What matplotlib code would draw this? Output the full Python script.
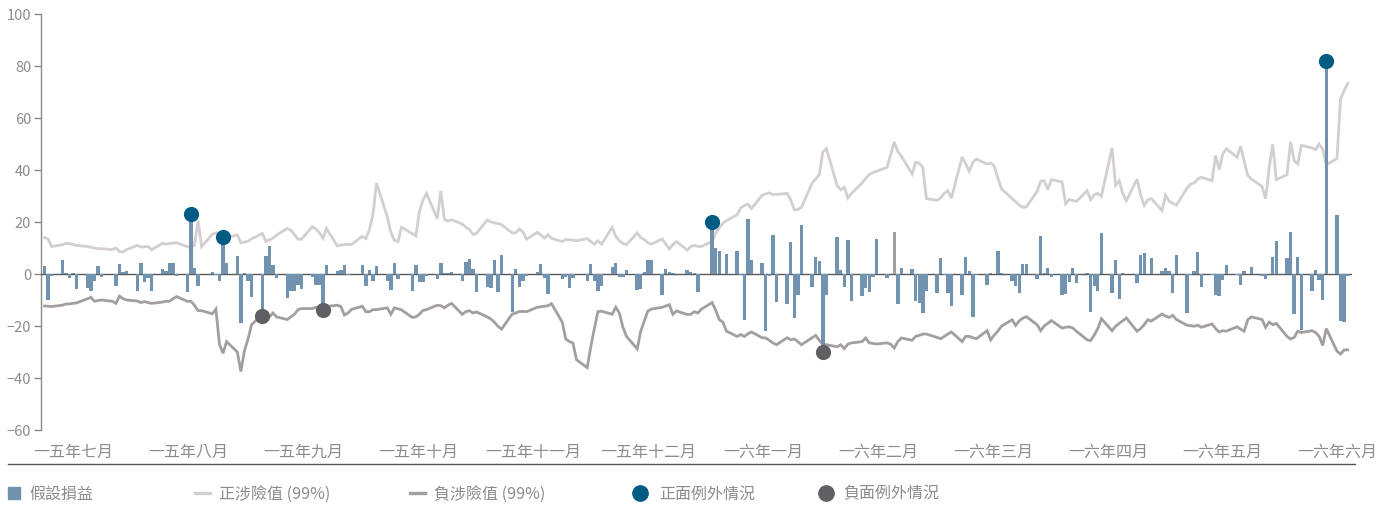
import numpy as np
import pandas as pd
import matplotlib
matplotlib.use('Agg')
import matplotlib.pyplot as plt
from matplotlib.lines import Line2D
from matplotlib.patches import Rectangle

plt.rcParams['font.family'] = ['Noto Sans CJK TC', 'DejaVu Sans']

# trading days, Jul 2015 - Jun 2016
dates = pd.bdate_range('2015-07-01', '2016-06-30')

# hypothetical P&L, one row per week
pnl = [
    2.9, -9.9, -0.9,
    5.5, 0.3, -1.5, 0.4, -5.8,
    -5.5, -6.5, -2.5, 3.2, -1.2,
    0, -4.7, 3.9, 0.8, 1.2,
    -6.5, 4.3, -3.2, -1.5, -6.5,
    2, 1, 4.2, 4.2, -0.8,
    -7, 23, 2.4, -4.8, 0,
    0.8, -0.4, -2.8, 14.3, 4.2,
    6.8, -19, 0.3, -2.8, -8.7,
    -16, 6.8, 10.6, 3.4, -1.7,
    -9.3, -6.6, -6.6, -4.2, -5.7,
    -1.2, -4.3, -4.3, -13.8, 3.4,
    1, 1.4, 3.4, -0.4, 0,
    3.3, -4.5, 1.5, -2.8, 3.1,
    -2.6, -6, 4.3, -2, 0,
    -6.5, 3.5, -3.2, -2.9, -0.9,
    -2, 4.2, 0.3, 0.3, 0.8,
    -2.8, 4.5, 5.8, 1.8, -6.9,
    -4.9, -5.2, 5.5, -7, 7.5,
    -14.6, 2, -5, -2.8, -0.9,
    0.7, 4, -1.6, -7.8, 0,
    -2, -1.2, -5.5, -1.5, 0,
    -2.5, 4, -2.8, -6.5, -4.7,
    2.7, 4.2, -1, -1, 1.5,
    -6.2, -5.7, 0.8, 5.2, 5.5,
    -8, 2, 0.6, 0.3, 0,
    1.5, 0.6, 0.2, -6.9, 0,
    20, 10, 8.8, 0, 7.8,
    8.7, -0.5, -17.7, 21.2, 5.4,
    4.2, -22, -0.6, 15, -10.6,
    -11.4, 12.3, -16.9, -7.9, 18.8,
    -4.9, 6.5, 5, -30, -7.9,
    14.2, 1.5, -4.9, 13, -10.3,
    -8.3, -5.2, -7.1, -1.3, 13.5,
    -1.5, 0, 16, -11.5, 2.2,
    2, -10.5, -11, -15, -6.5,
    -7.2, 6.2, -0.3, -7.2, -12.2,
    -7.9, 6.5, 1, -16.4, -0.5,
    -4.1, 0.4, 0, 8.8, 0.3,
    -2.6, -4.5, -7.4, 3.8, 3.8,
    -2, 14.6, 0.5, 2.3, -1.3,
    -8.2, -7.6, -3, 2.3, -3.6,
    0.3, -14.7, -4.5, -6.4, 15.6,
    -7.2, 5.4, -9.5, 0.3, 0,
    -3.3, 7.4, 8, 0, 6.2,
    1, 2.5, 1, -7.3, 7.4,
    -15, -0.5, 1.2, 8.5, -4.9,
    -0.3, -7.9, -8.3, -2.2, 3.3,
    -0.5, -4.1, 1.2, 0, 2.6,
    -0.8, -2, 0, 6.5, 12.8,
    6.2, 16.2, -15.4, 6.5, -21.5,
    -6.7, 1.5, -2.2, -9.9, 82,
    22.6, -18, -18.6, -0.8,
]

var_pos = [
    14.0, 13.5, 10.5,
    11.3, 11.8, 11.7, 11.3, 11.0,
    10.6, 10.3, 10.0, 9.7, 9.7,
    9.4, 10.0, 8.6, 8.5, 9.4,
    11.0, 10.4, 10.5, 10.6, 9.3,
    11.8, 11.5, 11.7, 11.9, 12.0,
    10.5, 10.3, 11.0, 20.5, 10.5,
    15.3, 15.8, 15.5, 13.5, 14.0,
    15.0, 12.0, 12.3, 12.6, 13.5,
    15.6, 12.5, 13.2, 13.8, 15.0,
    17.5, 16.8, 15.2, 13.4, 13.4,
    18.2, 17.3, 15.8, 13.8, 17.5,
    10.8, 11.2, 11.3, 11.4, 11.4,
    14.5, 13.6, 17.0, 23.0, 35.0,
    22.0, 16.0, 13.0, 12.5, 18.0,
    15.5, 14.6, 24.0, 28.5, 31.0,
    21.3, 32.0, 21.0, 20.3, 20.9,
    19.2, 18.0, 17.2, 15.2, 15.6,
    20.8, 20.0, 19.7, 19.4, 19.0,
    15.8, 15.8, 17.3, 16.2, 13.4,
    16.0, 15.0, 13.8, 15.1, 13.7,
    12.5, 13.2, 13.2, 13.0, 12.8,
    13.6, 12.5, 11.5, 12.8, 11.5,
    17.9, 14.5, 12.8, 11.8, 11.3,
    15.8, 14.0, 13.2, 12.0, 11.5,
    13.5, 11.5, 9.7, 11.3, 12.5,
    9.2, 10.5, 11.0, 10.6, 10.6,
    12.5, 15.8, 17.7, 19.5, 20.5,
    22.8, 25.4, 26.3, 26.9, 25.1,
    30.3, 30.8, 31.2, 30.6, 30.6,
    31.0, 28.5, 24.7, 24.8, 25.6,
    35.0, 36.5, 38.3, 47.0, 48.2,
    34.0, 32.4, 33.3, 29.2, 31.0,
    35.0, 36.8, 38.3, 39.0, 39.5,
    41.0, 46.0, 50.8, 47.0, 45.3,
    38.5, 43.0, 42.5, 41.0, 29.0,
    28.3, 29.3, 31.0, 32.0, 29.2,
    45.0, 42.3, 39.5, 43.0, 44.2,
    42.3, 42.7, 41.5, 37.0, 32.8,
    29.0, 27.7, 26.5, 25.6, 25.8,
    31.8, 35.6, 35.9, 32.5, 36.3,
    35.4, 27.0, 28.6, 28.3, 27.9,
    32.0, 28.6, 30.5, 31.0, 29.9,
    48.5, 34.1, 35.9, 31.0, 28.2,
    36.5, 30.5, 26.4, 28.5, 29.0,
    24.4, 30.3, 28.0, 27.2, 26.4,
    33.0, 34.6, 35.0, 36.5, 37.2,
    35.9, 45.6, 40.1, 46.2, 48.2,
    44.9, 49.1, 43.3, 38.0, 36.5,
    33.7, 29.0, 40.8, 50.0, 36.3,
    38.2, 50.8, 43.6, 42.3, 49.5,
    48.5, 47.8, 50.0, 48.0, 42.0,
    44.4, 67.4, 70.5, 73.3,
]

var_neg = [
    -12.3, -12.4, -12.5,
    -12.0, -11.5, -11.5, -11.3, -11.1,
    -9.5, -9.0, -10.5, -10.2, -10.0,
    -10.5, -11.3, -8.5, -9.5, -10.0,
    -10.4, -11.0, -10.6, -11.0, -11.3,
    -10.8, -10.5, -10.5, -9.5, -8.7,
    -10.5, -10.5, -12.0, -14.1, -14.1,
    -15.3, -13.5, -27.0, -30.5, -26.0,
    -30.0, -37.5, -29.5, -25.0, -19.5,
    -15.5, -16.3, -16.5, -15.0, -16.5,
    -17.5, -16.5, -15.5, -13.7, -13.3,
    -13.3, -12.8, -13.0, -13.0, -12.5,
    -12.0, -12.5, -15.8, -15.0, -13.6,
    -12.4, -14.5, -14.5, -13.7, -13.7,
    -13.0, -15.5, -13.0, -13.4, -13.8,
    -16.7, -16.5, -15.5, -14.0, -13.7,
    -12.0, -12.2, -13.0, -12.0, -11.3,
    -15.5, -14.5, -14.1, -15.0, -14.6,
    -16.5, -17.3, -18.5, -20.1, -21.2,
    -15.4, -15.0, -14.4, -14.4, -14.5,
    -12.8, -12.6, -12.4, -12.2, -11.4,
    -18.5, -25.0, -26.0, -26.5, -33.0,
    -36.0, -28.0, -21.0, -14.5, -14.3,
    -15.5, -12.8, -15.0, -20.5, -24.0,
    -28.8, -22.0, -18.0, -14.2, -13.5,
    -12.8, -12.3, -11.8, -15.5, -14.2,
    -15.6, -15.5, -14.5, -15.0, -13.5,
    -11.0, -14.0, -17.6, -18.5, -22.0,
    -24.0, -23.3, -24.0, -23.0, -22.3,
    -24.5, -24.6, -25.5, -26.5, -27.2,
    -24.5, -25.3, -25.0, -26.0, -27.2,
    -24.5, -23.6, -25.5, -27.0, -27.2,
    -28.0, -27.2, -28.7, -27.0, -26.5,
    -26.0, -24.6, -26.5, -26.7, -26.9,
    -26.5, -27.0, -28.5, -26.0, -24.6,
    -25.5, -24.0, -23.6, -23.1, -23.1,
    -24.4, -24.9, -24.0, -23.1, -22.3,
    -26.0, -24.0, -24.0, -24.5, -24.9,
    -21.8, -25.3, -23.5, -22.0, -20.1,
    -17.6, -19.8, -18.0, -17.0, -16.4,
    -19.5, -21.8, -20.0, -19.0, -17.9,
    -20.8, -20.5, -20.3, -20.8, -22.0,
    -25.3, -25.6, -23.5, -21.0, -17.2,
    -21.8, -20.1, -19.0, -18.0, -16.9,
    -22.0, -21.0, -19.5, -17.6, -18.1,
    -15.4, -16.2, -16.7, -15.9, -17.5,
    -19.7, -19.9, -20.1, -19.7, -20.5,
    -19.2, -21.0, -22.3, -21.8, -22.0,
    -20.3, -21.2, -22.0, -17.6, -16.5,
    -17.5, -20.5, -18.5, -19.5, -19.0,
    -24.0, -25.0, -24.4, -22.0, -22.5,
    -21.8, -22.5, -24.0, -27.5, -21.0,
    -29.7, -30.8, -29.2, -29.2,
]

pos_exceptions = ['2015-08-11', '2015-08-20', '2016-01-04', '2016-06-24']
neg_exceptions = ['2015-08-31', '2015-09-17', '2016-02-04']
grey_bar_day = '2016-02-24'

month_labels = ['一五年七月', '一五年八月', '一五年九月', '一五年十月', '一五年十一月', '一五年十二月',
                '一六年一月', '一六年二月', '一六年三月', '一六年四月', '一六年五月', '一六年六月']

legend_labels = ['假設損益', '正涉險值 (99%)', '負涉險值 (99%)', '正面例外情況', '負面例外情況']

BAR = '#7293b0'
LIGHT = '#d3cfcf'
DARK = '#a39f9f'
BLUE = '#015b82'
GREY_DOT = '#606064'
TXT = '#8c8c8c'

df = pd.DataFrame({'pnl': pnl, 'pos': var_pos, 'neg': var_neg}, index=dates)
days = np.asarray((df.index - df.index[0]).days, dtype=float)
df['x'] = days

W, H = 1381, 506
fig = plt.figure(figsize=(W / 100, H / 100), dpi=100)
ax = fig.add_axes([41 / W, 75 / H, (1352 - 41) / W, 416 / H])

ax.plot(df['x'], df['pos'], color=LIGHT, lw=2.0, zorder=2, solid_joinstyle='miter')
ax.plot(df['x'], df['neg'], color=DARK, lw=2.0, zorder=2, solid_joinstyle='miter')
ax.axhline(0, color='#5a5a5a', lw=1.0, zorder=3)

colors = [DARK if d == pd.Timestamp(grey_bar_day) else BAR for d in df.index]
ax.bar(df['x'], df['pnl'], width=0.95, color=colors, zorder=4, linewidth=0)

pe = df.loc[pd.to_datetime(pos_exceptions)]
ne = df.loc[pd.to_datetime(neg_exceptions)]
ax.scatter(pe['x'], pe['pnl'], s=120, color=BLUE, zorder=5, linewidths=0)
ax.scatter(ne['x'], ne['pnl'], s=120, color=GREY_DOT, zorder=5, linewidths=0)

ax.set_xlim(-0.98, 366.2)
ax.set_ylim(-60, 100)
ax.set_yticks(np.arange(-60, 101, 20))
ax.set_xticks(np.linspace(8.0, 362.2, 12))
ax.set_xticklabels(month_labels, fontweight='light')
for s in ['top', 'right', 'bottom']:
    ax.spines[s].set_visible(False)
ax.spines['left'].set_color('#8a8a8a')
ax.spines['left'].set_linewidth(1.0)
ax.tick_params(axis='y', colors='#8a8a8a', labelcolor=TXT, labelsize=10.5, length=5, width=1, pad=2)
ax.tick_params(axis='x', length=0, labelcolor=TXT, labelsize=11.5, pad=9)

# separator above legend
fig.add_artist(Line2D([8 / W, 1355 / W], [1 - 465 / H] * 2, color='#555555', lw=1.0))

# legend row
ly = 1 - 494 / H
fig.add_artist(Rectangle((8 / W, ly - 6 / H), 12 / W, 12 / H, color=BAR, transform=fig.transFigure))
fig.add_artist(Line2D([195 / W, 210 / W], [ly, ly], color=LIGHT, lw=2.4))
fig.add_artist(Line2D([410 / W, 425 / W], [ly, ly], color=DARK, lw=2.4))
fig.add_artist(Line2D([640 / W], [ly], marker='o', markersize=11, color=BLUE, lw=0))
fig.add_artist(Line2D([826 / W], [ly], marker='o', markersize=11, color=GREY_DOT, lw=0))
for x0, lab in zip([29, 219, 434, 659, 843], legend_labels):
    fig.text(x0 / W, ly, lab, color=TXT, fontsize=11.5, va='center', ha='left', fontweight='light')

fig.savefig('out.png', dpi=100)
